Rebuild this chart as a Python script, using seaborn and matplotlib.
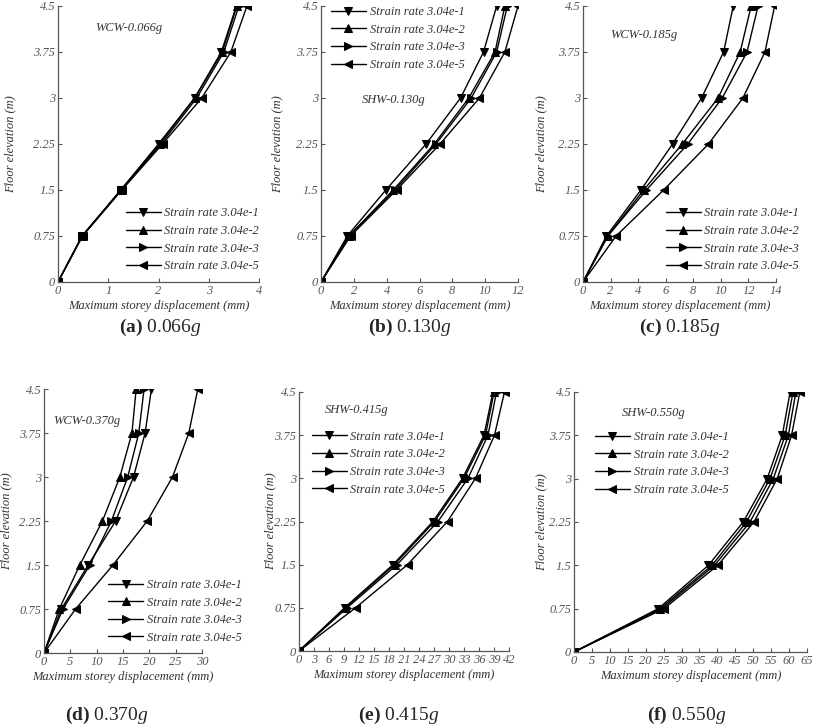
import numpy as np
import pandas as pd
import matplotlib
matplotlib.use("Agg")
import matplotlib.pyplot as plt
import seaborn as sns

sns.set_theme(style="ticks")
plt.rcParams['font.family'] = ['Liberation Serif', 'DejaVu Serif']
plt.rcParams['mathtext.fontset'] = 'custom'
plt.rcParams['mathtext.rm'] = 'Liberation Serif'
plt.rcParams['mathtext.it'] = 'Liberation Serif:italic'
plt.rcParams['mathtext.bf'] = 'Liberation Serif:bold'

# ---- data ----
floors = [0, 0.75, 1.5, 2.25, 3.0, 3.75, 4.5]
floor_labels = ['0', '0.75', '1.5', '2.25', '3', '3.75', '4.5']
rates = ['Strain rate 3.04e-1', 'Strain rate 3.04e-2',
         'Strain rate 3.04e-3', 'Strain rate 3.04e-5']
markers = ['v', '^', '>', '<']

# maximum storey displacement (mm), one list per strain rate
a_disp = [[0, 0.48, 1.25, 2.00, 2.72, 3.25, 3.55],
          [0, 0.48, 1.25, 2.02, 2.72, 3.27, 3.56],
          [0, 0.48, 1.26, 2.05, 2.76, 3.30, 3.60],
          [0, 0.49, 1.27, 2.08, 2.86, 3.44, 3.76]]
b_disp = [[0, 1.6, 3.95, 6.4, 8.5, 9.9, 10.7],
          [0, 1.7, 4.4, 6.9, 9.0, 10.6, 11.2],
          [0, 1.7, 4.5, 7.0, 9.15, 10.7, 11.35],
          [0, 1.8, 4.6, 7.25, 9.65, 11.2, 12.0]]
c_disp = [[0, 1.7, 4.2, 6.5, 8.6, 10.2, 10.9],
          [0, 1.8, 4.4, 7.2, 9.8, 11.4, 12.2],
          [0, 1.8, 4.6, 7.6, 10.1, 11.9, 12.7],
          [0, 2.4, 5.85, 9.1, 11.6, 13.2, 13.9]]
d_disp = [[0, 3.3, 8.4, 13.6, 17.0, 19.2, 20.4],
          [0, 2.9, 6.8, 11.1, 14.4, 16.7, 17.5],
          [0, 3.6, 8.7, 12.8, 15.9, 18.0, 19.0],
          [0, 6.0, 13.1, 19.6, 24.4, 27.5, 29.2]]
e_disp = [[0, 9.1, 18.8, 26.8, 32.7, 37.0, 38.8],
          [0, 9.3, 19.1, 27.1, 33.0, 37.3, 39.0],
          [0, 9.6, 19.6, 27.8, 33.8, 37.8, 39.5],
          [0, 11.3, 21.7, 29.7, 35.3, 39.1, 41.1]]
f_disp = [[0, 23.5, 37.5, 47.2, 53.9, 58.1, 60.3],
          [0, 24.0, 38.5, 48.1, 54.7, 58.9, 61.1],
          [0, 24.5, 39.2, 49.1, 55.6, 59.8, 61.9],
          [0, 25.1, 40.1, 50.2, 56.7, 60.7, 63.0]]

panel_tags = ['WCW-0.066g', 'SHW-0.130g', 'WCW-0.185g',
              'WCW-0.370g', 'SHW-0.415g', 'SHW-0.550g']
captions = [('a', '0.066'), ('b', '0.130'), ('c', '0.185'),
            ('d', '0.370'), ('e', '0.415'), ('f', '0.550')]
x_max = [4, 12, 14, 30, 42, 65]
x_step = [1, 2, 2, 5, 3, 5]
all_disp = [a_disp, b_disp, c_disp, d_disp, e_disp, f_disp]

# ---- layout (pixel boxes: left, right, top, bottom) ----
W, H = 813, 727
boxes = [(58, 259, 6, 282), (321, 518, 6, 282), (583, 776, 6, 282),
         (44, 202, 389, 653), (299, 509, 392, 651), (574, 807, 392, 652)]
ylab_x = [12, 279, 543, 8, 272, 543]
tag_pos = [(95, 28), (362, 100), (610, 35), (53, 421), (325, 410), (622, 413)]
leg_anchor = [('lower right', (1.0, 0.035)), ('upper left', (0.05, 1.0)),
              ('lower right', (1.12, 0.035)), ('lower right', (1.25, 0.035)),
              ('upper left', (0.06, 0.85)), ('upper left', (0.09, 0.85))]
cap_pos = [(160, 327), (410, 327), (680, 327), (107, 715), (399, 715), (687, 715)]

fig = plt.figure(figsize=(W / 100, H / 100), dpi=100)
grey = '#555555'

for i in range(6):
    l, r, t, b = boxes[i]
    ax = fig.add_axes([l / W, 1 - b / H, (r - l) / W, (b - t) / H])
    for j in range(4):
        df = pd.DataFrame({'disp': all_disp[i][j], 'floor': floors})
        sns.lineplot(data=df, x='disp', y='floor', ax=ax, sort=False, estimator=None,
                     color='black', lw=1.0, marker=markers[j], markersize=5.5,
                     markeredgecolor='black', label=rates[j])
    ax.set_xlim(0, x_max[i])
    ax.set_ylim(0, 4.5)
    ax.set_xticks(np.arange(0, x_max[i] + 0.1, x_step[i]))
    ax.set_yticks(floors)
    ax.set_yticklabels(floor_labels)
    sns.despine(ax=ax)
    for s in ['left', 'bottom']:
        ax.spines[s].set_color(grey)
        ax.spines[s].set_linewidth(0.9)
    ax.tick_params(direction='in', length=3, width=0.8, colors=grey, labelsize=9, pad=2)
    for lab in ax.get_xticklabels() + ax.get_yticklabels():
        lab.set_fontstyle('italic')
    ax.set_xlabel('Maximum storey displacement (mm)', fontsize=9, style='italic',
                  color='#333333', labelpad=2)
    ax.set_ylabel('Floor elevation (m)', fontsize=9, style='italic', color='#333333')
    ax.yaxis.set_label_coords((ylab_x[i] + 4 - l) / (r - l), 0.5)
    ax.text((tag_pos[i][0] - l) / (r - l), (b - tag_pos[i][1]) / (b - t), panel_tags[i],
            transform=ax.transAxes, fontsize=9, style='italic', color='#333333',
            va='center', ha='left')
    loc, anchor = leg_anchor[i]
    ax.legend(loc=loc, bbox_to_anchor=anchor, frameon=False,
              prop={'style': 'italic', 'size': 9}, handlelength=2.8,
              handletextpad=0.3, labelspacing=0.45, borderaxespad=0, borderpad=0)
    for txt in ax.get_legend().get_texts():
        txt.set_color('#333333')
    cx, cy = cap_pos[i]
    tag, val = captions[i]
    fig.text(cx / W, 1 - cy / H,
             r'$\mathbf{(' + tag + r')}\ \mathrm{' + val + r'}\mathit{g}$',
             fontsize=14, ha='center', va='center')

fig.savefig('out.png', dpi=100)
